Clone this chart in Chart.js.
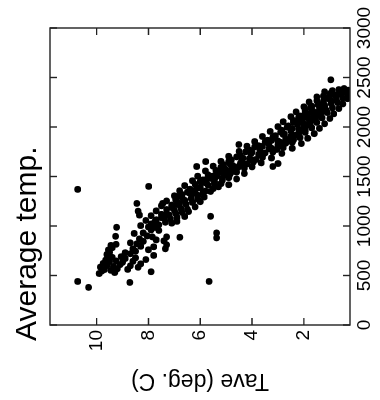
<!DOCTYPE html>
<html>
<head>
<meta charset="utf-8">
<script src="https://cdn.jsdelivr.net/npm/chart.js@4.4.1/dist/chart.umd.min.js"></script>
<style>
    html, body { margin: 0; padding: 0; background: #fff; overflow: hidden; }
    /* o gráfico original é desenhado "deitado" e girado 90° no sentido anti-horário */
    #moldura {
        position: absolute; left: 0; top: 0;
        width: 400px; height: 380px;
        transform-origin: 0 0;
        transform: translate(0, 400px) rotate(-90deg);
    }
</style>
</head>
<body>
<div id="moldura"><canvas id="graficoTemp"></canvas></div>
<script>
// Altitude (m) de cada estação
const altitude = [
    // 500-700 m
    520, 545, 560, 585, 600, 622, 640, 655, 683, 700, 530, 552, 568, 592, 610, 633, 648, 672, 690,
    562, 598, 644, 678, 618, 583, 661, 538, 703,
    // 700-1000 m
    712, 735, 758, 781, 804, 815, 896, 987,
    720, 745, 770, 795, 820, 845, 870, 900, 930, 960, 990,
    730, 760, 790, 830, 860, 890, 925, 955, 985,
    770, 810, 850, 890, 886, 880, 930,
    // 1000-1300 m
    1004, 1021, 1012, 1038, 1029, 1047, 1043,
    1056, 1063, 1079, 1071, 1088, 1096, 1084,
    1104, 1118, 1111, 1129, 1137, 1146, 1123,
    1153, 1167, 1159, 1178, 1171, 1193, 1186,
    1204, 1212, 1229, 1221, 1238, 1246, 1216,
    1253, 1266, 1259, 1278, 1272, 1293, 1286,
    1228, 1228, 1299, 1098, 1400, 1150, 1110,
    // 1300-1600 m
    1305, 1318, 1342, 1326, 1310, 1337, 1349, 1331,
    1356, 1372, 1361, 1389, 1353, 1378, 1396, 1384,
    1408, 1421, 1440, 1413, 1446, 1428, 1417, 1436, 1449,
    1457, 1466, 1481, 1494, 1462, 1488, 1475, 1499, 1471,
    1503, 1517, 1509, 1536, 1524, 1544, 1530, 1548, 1512,
    1556, 1562, 1578, 1571, 1590, 1584, 1597, 1593, 1566,
    1651, 1601, 1823, 1631, 1601,
    // 1600-1900 m
    1604, 1619, 1611, 1632, 1627, 1645, 1638, 1649, 1616,
    1653, 1668, 1659, 1681, 1672, 1694, 1687, 1698, 1664,
    1704, 1712, 1729, 1721, 1738, 1746, 1733, 1749, 1716,
    1754, 1767, 1761, 1779, 1773, 1792, 1785, 1798, 1770,
    1806, 1811, 1828, 1819, 1837, 1846, 1833, 1848, 1822,
    1853, 1866, 1859, 1878, 1871, 1893, 1886, 1897, 1875,
    // 1900-2200 m
    1904, 1912, 1929, 1921, 1938, 1946, 1933, 1949, 1916,
    1955, 1967, 1961, 1979, 1972, 1992, 1986, 1998, 1970,
    2004, 2011, 2028, 2019, 2037, 2046, 2033, 2048, 2022,
    2053, 2066, 2059, 2078, 2071, 2093, 2086, 2097, 2074,
    2104, 2112, 2129, 2121, 2138, 2146, 2133, 2148, 2116,
    2153, 2167, 2159, 2178, 2172, 2193, 2186, 2197, 2170,
    // 2200-2400 m
    2204, 2211, 2228, 2221, 2237, 2246, 2233, 2216,
    2253, 2266, 2259, 2278, 2272, 2293, 2286, 2297,
    2304, 2312, 2329, 2321, 2338, 2346, 2333,
    2356, 2367, 2378, 2389, 2372,
    // miolo da faixa densa
    1425, 1445, 1485, 1505, 1545, 1565, 1605, 1625, 1665, 1685, 1725, 1745, 1785, 1805, 1845, 1865,
    1905, 1925, 1965, 1985, 2025, 2045, 2085, 2105, 2145, 2165, 2205, 2225, 2265, 2285, 2325, 2345,
    // pontos isolados
    1370, 440, 380, 430, 440, 2477
];
// Temperatura média (°C) correspondente
const tempMedia = [
    // 500-700 m
    9.9, 9.8, 9.7, 9.85, 9.6, 9.75, 9.5, 9.65, 9.4, 9.55, 9.3, 9.45, 9.2, 9.35, 9.1, 9.0, 9.25, 8.9, 9.05,
    8.8, 8.7, 8.6, 8.5, 8.3, 8.4, 8.1, 7.9, 7.8,
    // 700-1000 m
    9.6, 9.5, 9.55, 9.4, 9.45, 9.25, 9.27, 9.23,
    8.7, 8.5, 8.6, 8.3, 8.45, 8.2, 8.35, 8.05, 8.2, 7.9, 8.0,
    8.9, 8.0, 7.8, 8.7, 7.7, 7.85, 8.55, 7.6, 7.75,
    7.35, 7.3, 7.4, 7.3, 6.79, 5.37, 5.37,
    // 1000-1300 m
    8.3, 7.9, 7.6, 7.35, 7.1, 6.9, 7.75,
    8.1, 7.7, 7.4, 7.15, 6.9, 6.6, 7.5,
    7.9, 7.5, 7.2, 6.95, 6.7, 6.45, 7.3,
    7.7, 7.3, 7.0, 6.75, 6.5, 6.2, 7.1,
    7.5, 7.1, 6.8, 6.55, 6.3, 6.0, 6.9,
    7.3, 6.95, 6.6, 6.35, 6.1, 5.85, 6.7,
    8.45, 7.45, 6.87, 5.6, 7.99, 8.4, 8.35,
    // 1300-1600 m
    7.0, 6.7, 6.5, 6.3, 6.1, 5.9, 5.6, 6.4,
    6.8, 6.4, 6.2, 6.0, 5.8, 5.5, 5.3, 6.1,
    6.6, 6.2, 5.95, 5.7, 5.45, 5.2, 4.9, 5.8, 6.0,
    6.3, 5.9, 5.6, 5.4, 5.15, 4.9, 4.6, 5.5, 5.75,
    6.1, 5.7, 5.35, 5.1, 4.85, 4.6, 4.3, 5.25, 4.95,
    5.8, 5.4, 5.05, 4.8, 4.55, 4.3, 4.0, 5.2, 4.65,
    5.79, 6.14, 4.51, 3.0, 3.2,
    // 1600-1900 m
    5.5, 5.1, 4.75, 4.45, 4.2, 3.95, 3.65, 4.9, 4.3,
    5.2, 4.8, 4.4, 4.1, 3.85, 3.6, 3.25, 4.6, 3.95,
    4.9, 4.45, 4.05, 3.75, 3.5, 3.2, 2.85, 4.25, 3.6,
    4.5, 4.1, 3.7, 3.35, 3.05, 2.8, 2.45, 3.9, 3.2,
    4.2, 3.75, 3.35, 3.0, 2.7, 2.45, 2.1, 3.5, 2.85,
    3.9, 3.4, 3.0, 2.7, 2.4, 2.15, 1.85, 3.2, 2.55,
    // 1900-2200 m
    3.6, 3.1, 2.75, 2.45, 2.2, 1.95, 1.6, 2.9, 2.3,
    3.3, 2.85, 2.5, 2.2, 1.95, 1.7, 1.4, 2.65, 2.05,
    3.0, 2.6, 2.25, 2.0, 1.75, 1.5, 1.2, 2.4, 1.85,
    2.8, 2.4, 2.05, 1.8, 1.55, 1.3, 1.0, 2.2, 1.65,
    2.5, 2.15, 1.85, 1.6, 1.35, 1.1, 0.85, 1.95, 1.45,
    2.3, 1.95, 1.65, 1.4, 1.15, 0.9, 0.65, 1.75, 1.25,
    // 2200-2400 m
    2.0, 1.7, 1.45, 1.2, 0.95, 0.7, 0.5, 1.3,
    1.8, 1.5, 1.25, 1.0, 0.75, 0.5, 0.32, 1.1,
    1.5, 1.25, 1.0, 0.8, 0.55, 0.35, 0.3,
    1.2, 0.9, 0.65, 0.45, 0.3,
    // miolo da faixa densa
    5.45, 5.85, 5.15, 5.5, 4.8, 5.0, 4.5, 4.85, 4.05, 4.35, 3.7, 4.0, 3.25, 3.6, 2.9, 3.25,
    2.5, 2.8, 2.15, 2.45, 1.9, 2.2, 1.7, 1.95, 1.45, 1.7, 1.2, 1.45, 0.95, 1.2, 0.7, 0.95,
    // pontos isolados
    10.73, 10.73, 10.31, 8.72, 5.66, 0.96
];
const ticksAltitude = [0, 500, 1000, 1500, 2000, 2500, 3000];
const ticksTemp = [2, 4, 6, 8, 10];

const fonte = '"Liberation Sans", Arial, sans-serif';
const corEixo = "#222";

// Título, moldura e marcas de escala para dentro (estilo R)
const pluginMoldura = {
    id: "moldura",
    afterDraw(chart) {
        const ctx = chart.ctx;
        const a = chart.chartArea;
        const sx = chart.scales.x;
        const sy = chart.scales.y;
        const tam = 7;
        ctx.save();
        ctx.strokeStyle = corEixo;
        ctx.lineWidth = 1.4;
        ctx.strokeRect(a.left, a.top, a.right - a.left, a.bottom - a.top);
        ctx.beginPath();
        ticksAltitude.forEach(v => {
            const p = sx.getPixelForValue(v);
            ctx.moveTo(p, a.bottom); ctx.lineTo(p, a.bottom - tam);
            ctx.moveTo(p, a.top); ctx.lineTo(p, a.top + tam);
        });
        ticksTemp.forEach(v => {
            const p = sy.getPixelForValue(v);
            ctx.moveTo(a.left, p); ctx.lineTo(a.left + tam, p);
            ctx.moveTo(a.right, p); ctx.lineTo(a.right - tam, p);
        });
        ctx.stroke();
        ctx.fillStyle = "#000";
        ctx.font = "30px " + fonte;
        ctx.textAlign = "left";
        ctx.textBaseline = "alphabetic";
        ctx.fillText("Average temp.", 59, 36);
        ctx.restore();
    }
};

const pontos = altitude.map((alt, i) => ({ x: alt, y: tempMedia[i] }));

new Chart(document.getElementById("graficoTemp"), {
    type: "scatter",
    data: {
        datasets: [{
            data: pontos,
            backgroundColor: "#000",
            borderWidth: 0,
            pointRadius: 3.4
        }]
    },
    options: {
        responsive: true,
        maintainAspectRatio: false,
        animation: false,
        devicePixelRatio: 1,
        layout: { padding: { top: 50, right: 28, left: 0, bottom: 0 } },
        plugins: { legend: { display: false }, tooltip: { enabled: false } },
        scales: {
            x: {
                type: "linear",
                min: 0,
                max: 3000,
                grid: { display: false, drawTicks: false },
                border: { display: false },
                afterBuildTicks: s => { s.ticks = ticksAltitude.map(v => ({ value: v })); },
                afterFit: s => { s.height = 30; },
                ticks: {
                    autoSkip: false,
                    maxRotation: 0,
                    padding: 3,
                    color: "#000",
                    font: { family: fonte, size: 19 },
                    callback: v => String(v)
                }
            },
            y: {
                type: "linear",
                min: 0.22,
                max: 11.8,
                grid: { display: false, drawTicks: false },
                border: { display: false },
                afterBuildTicks: s => { s.ticks = ticksTemp.map(v => ({ value: v })); },
                afterFit: s => { s.width = 75; },
                ticks: {
                    autoSkip: false,
                    padding: 5,
                    color: "#000",
                    font: { family: fonte, size: 19 },
                    callback: v => String(v)
                },
                title: {
                    display: true,
                    text: "Tave (deg. C)",
                    color: "#000",
                    padding: { top: 6, bottom: 0 },
                    font: { family: fonte, size: 23 }
                }
            }
        }
    },
    plugins: [pluginMoldura]
});
</script>
</body>
</html>
